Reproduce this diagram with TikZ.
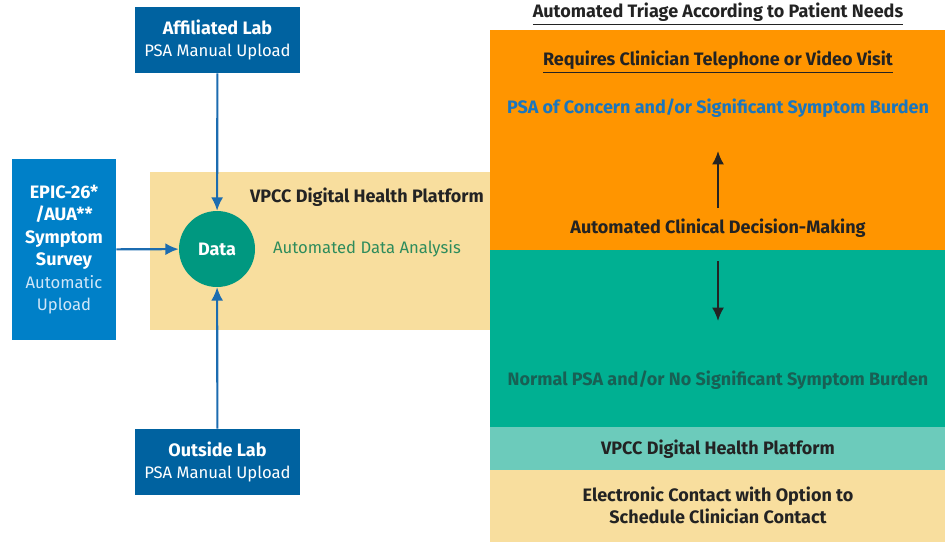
\documentclass[tikz,border=0pt]{standalone}
\usepackage{fontspec}
\setmainfont{Fira Sans}
\usetikzlibrary{arrows.meta}

\definecolor{labblue}{RGB}{0,98,160}
\definecolor{surveyblue}{RGB}{0,128,200}
\definecolor{flowblue}{RGB}{28,108,176}
\definecolor{platyellow}{RGB}{248,222,158}
\definecolor{datagreen}{RGB}{0,152,128}
\definecolor{analysisgreen}{RGB}{46,140,92}
\definecolor{urgentorange}{RGB}{255,149,0}
\definecolor{routineteal}{RGB}{0,176,146}
\definecolor{bandteal}{RGB}{108,203,187}
\definecolor{psablue}{RGB}{26,118,190}
\definecolor{normalteal}{RGB}{24,96,84}
\definecolor{inkdark}{RGB}{35,35,35}
\definecolor{paleblue}{RGB}{208,230,248}

\newcommand{\headfont}{\fontsize{13.5}{16.5}\selectfont\bfseries}
\newcommand{\plainfont}{\fontsize{12.5}{16.5}\selectfont}

\tikzset{
  labbox/.style={fill=labblue, text=white, align=center,
    minimum width=123.75pt, minimum height=49.5pt, inner sep=0pt,
    font=\fontsize{12.5}{16.5}\selectfont},
  surveybox/.style={fill=surveyblue, text=white, align=center,
    minimum width=78pt, minimum height=135.75pt, inner sep=0pt,
    font=\fontsize{12.5}{16.9}\selectfont},
  datanode/.style={circle, fill=datagreen, text=white, minimum size=57pt,
    inner sep=0pt, font=\headfont},
  label/.style={text=inkdark, align=center, inner sep=0pt, font=\headfont},
  feed/.style={draw=flowblue, line width=1.6pt, -{Latex[length=10pt,width=9pt]}},
  triage/.style={draw=inkdark, line width=1.6pt, -{Latex[length=10pt,width=9pt]}}
}

\begin{document}
\begin{tikzpicture}[x=0.75pt,y=0.75pt,yscale=-1,xscale=1]
\useasboundingbox (0,0) rectangle (945,542);

%Shape: Rectangle, platform band
\fill[platyellow] (150,172) rectangle (490,330);
%Shape: Rectangle, clinician visit
\fill[urgentorange] (490,30) rectangle (945,250);
%Shape: Rectangle, no visit
\fill[routineteal] (490,250) rectangle (945,427);
%Shape: Rectangle, platform strip
\fill[bandteal] (490,427) rectangle (945,470);
%Shape: Rectangle, electronic contact
\fill[platyellow] (490,470) rectangle (945,542);

% Sources
\node[labbox] (affiliated) at (217.5,40) {{\headfont Affiliated Lab}\\PSA Manual Upload};
\node[labbox] (outside) at (217.5,462) {{\headfont Outside Lab}\\PSA Manual Upload};
\node[surveybox] (survey) at (64,249.5) {{\headfont EPIC-26*}\\{\headfont /AUA**}\\{\headfont Symptom}\\{\headfont Survey}\\{\color{paleblue}Automatic}\\{\color{paleblue}Upload}};
\node[datanode] (data) at (217,249) {Data};

\draw[feed] (affiliated) -- (data);
\draw[feed] (outside) -- (data);
\draw[feed] (survey) -- (data);

% Text Node
\node[label] (platform) at (367,197) {VPCC Digital Health Platform};
% Text Node
\node[label, text=analysisgreen, font=\plainfont] (analysis) at (367,249) {Automated Data Analysis};

% Text Node
\node[label] (triagehead) at (718,14) {\underline{Automated Triage According to Patient Needs}};
% Text Node
\node[label] (visit) at (718,62) {\underline{Requires Clinician Telephone or Video Visit}};
% Text Node
\node[label, text=psablue] (concern) at (718,108) {PSA of Concern and/or Significant Symptom Burden};
% Text Node
\node[label] (decision) at (718,228) {Automated Clinical Decision-Making};
% Text Node
\node[label, text=normalteal] (normal) at (718,380) {Normal PSA and/or No Significant Symptom Burden};
% Text Node
\node[label] (strip) at (718,449) {VPCC Digital Health Platform};
% Text Node
\node[label] (contact) at (718,505) {Electronic Contact with Option to\\Schedule Clinician Contact};

% decision arrows
\coordinate (upstart) at (718,208);
\coordinate (upend) at (718,151);
\coordinate (downstart) at (718,261);
\coordinate (downend) at (718,321);
\draw[triage] (upstart) -- (upend);
\draw[triage] (downstart) -- (downend);
\end{tikzpicture}
\end{document}
